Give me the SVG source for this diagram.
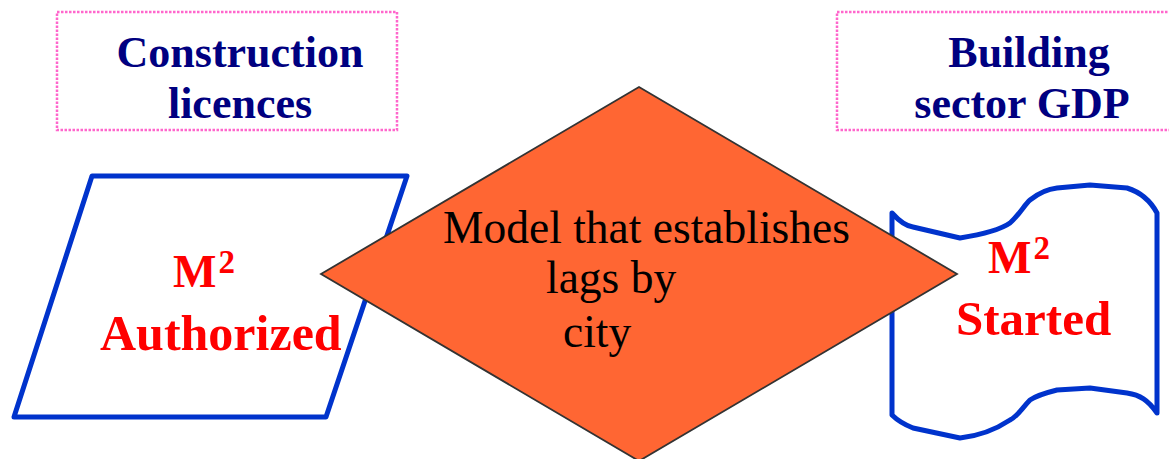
<svg xmlns="http://www.w3.org/2000/svg" width="1169" height="459" viewBox="0 0 1169 459">
<style>
.label{fill:none;stroke:#FF66CC;stroke-width:2.5;stroke-dasharray:2.5 1.5}
.title{font-family:"Liberation Serif","Times New Roman",serif;font-weight:bold;font-size:44px;fill:#000080;text-anchor:middle}
.shape{fill:#FFFFFF;stroke:#0033CC;stroke-width:5;stroke-linejoin:round}
.red{font-family:"Liberation Serif","Times New Roman",serif;font-weight:bold;fill:#FF0000}
.dia{fill:#FF6633;stroke:#333333;stroke-width:1.8}
.dtext{font-family:"Liberation Serif","Times New Roman",serif;font-size:45.5px;fill:#000000}
</style>
<rect width="1169" height="459" fill="#FFFFFF"/>
<g id="label-construction">
<rect class="label" x="57" y="12" width="340" height="118"/>
<text class="title" x="240" y="67">Construction</text>
<text class="title" x="240" y="118">licences</text>
</g>
<g id="label-gdp">
<rect class="label" x="837" y="12" width="340" height="118"/>
<text class="title" x="1029" y="67">Building</text>
<text class="title" x="1022" y="118">sector GDP</text>
</g>
<g id="m2-authorized">
<polygon class="shape" points="92,176 407,176 326,417 14,417"/>
<text class="red" x="173" y="287" font-size="46">M<tspan font-size="33" dy="-14" dx="2">2</tspan></text>
<text class="red" x="100" y="350" font-size="50">Authorized</text>
</g>
<g id="m2-started">
<path class="shape" d="M892,213 C900,222 906,226 913,227 L960,238 C985,234 1000,230 1010,223 C1020,214 1025,204 1030,200 C1040,192 1048,189 1057,188 L1090,185 L1127,188 C1140,192 1150,200 1157,213 L1157,413 C1148,400 1140,395 1127,393 L1090,388 L1057,390 C1045,393 1036,396 1030,400 C1022,408 1018,416 1010,420 C995,430 978,436 960,438 L913,428 C903,424 897,420 892,415 Z"/>
<text class="red" x="988" y="273" font-size="46">M<tspan font-size="33" dy="-14" dx="2">2</tspan></text>
<text class="red" x="956" y="335" font-size="49">Started</text>
</g>
<g id="model">
<polygon class="dia" points="639,87 957,274 639,461 321,274"/>
<text class="dtext" x="443" y="243">Model that establishes</text>
<text class="dtext" x="546" y="293">lags by</text>
<text class="dtext" x="563" y="347">city</text>
</g>
<g id="connectors"></g>
</svg>
